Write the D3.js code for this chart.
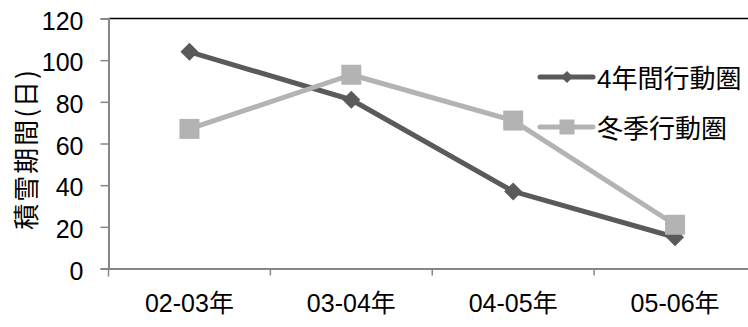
<!DOCTYPE html>
<html>
<head>
<meta charset="utf-8">
<script src="https://cdn.jsdelivr.net/npm/d3@7"></script>
<style>
  html, body { margin: 0; padding: 0; background: #fff; }
  svg { display: block; }
  text { font-family: "Liberation Sans", Arial, "Noto Sans CJK JP", sans-serif; fill: #000; }
</style>
</head>
<body>
<svg id="chart" width="748" height="327"></svg>
<script>
// Snow-cover duration per winter, by home-range definition
const seasons = ["02-03年", "03-04年", "04-05年", "05-06年"];
const fourYearRange = [104, 81, 37, 15];   // 4年間行動圏
const winterRange = [67, 93, 71, 21];      // 冬季行動圏
const yTicks = [0, 20, 40, 60, 80, 100, 120];
const seriesNames = ["4年間行動圏", "冬季行動圏"];

const series = [
  { name: seriesNames[0], values: fourYearRange, color: "#5a5a5a", marker: "diamond" },
  { name: seriesNames[1], values: winterRange, color: "#b3b3b3", marker: "square" }
];

const svg = d3.select("#chart");
const plotLeft = 108.5, plotRight = 756, plotTop = 18.5, plotBottom = 268.5;

const x = d3.scaleBand().domain(seasons).range([plotLeft, plotRight]);
const y = d3.scaleLinear().domain([0, 120]).range([plotBottom, plotTop]);

// plot frame: black top edge
svg.append("line")
  .attr("x1", plotLeft).attr("x2", 748).attr("y1", plotTop).attr("y2", plotTop)
  .attr("stroke", "#000").attr("stroke-width", 1.5);

// y axis
const yAxis = svg.append("g")
  .attr("transform", `translate(${plotLeft},0)`)
  .call(d3.axisLeft(y).tickValues(yTicks).tickSize(8).tickPadding(17).tickFormat(d3.format("d")));
yAxis.select(".domain").attr("stroke", "#868686").attr("stroke-width", 2);
yAxis.selectAll(".tick line").attr("stroke", "#868686").attr("stroke-width", 1.5);
yAxis.selectAll(".tick text")
  .attr("font-size", 25).attr("dy", "0.42em")
  .style("font-family", "'Liberation Sans', Arial, sans-serif");

// x axis
const xAxis = svg.append("g")
  .attr("transform", `translate(0,${plotBottom})`)
  .call(d3.axisBottom(x).tickSize(0).tickPadding(30));
xAxis.select(".domain").attr("stroke", "#868686").attr("stroke-width", 2);
xAxis.selectAll(".tick text")
  .attr("font-size", 25).attr("dy", "0.55em");
// category boundary ticks
const bounds = seasons.map(s => x(s)).concat([x(seasons[seasons.length - 1]) + x.bandwidth()]);
xAxis.selectAll(".bound")
  .data(bounds)
  .join("line")
  .attr("class", "bound")
  .attr("x1", d => d).attr("x2", d => d)
  .attr("y1", 0).attr("y2", (d, i) => i === 0 ? 8 : 7)
  .attr("stroke", "#868686").attr("stroke-width", 1.5);

// y axis title
svg.append("text")
  .attr("transform", "translate(24,149) rotate(-90)")
  .attr("text-anchor", "middle")
  .attr("dominant-baseline", "central")
  .attr("font-size", 26)
  .attr("letter-spacing", 2)
  .style("font-family", "'Noto Sans CJK JP', sans-serif")
  .text("積雪期間(日)");

const cx = s => x(s) + x.bandwidth() / 2;
const line = d3.line().x((d, i) => cx(seasons[i])).y(d => y(d));

function drawMarker(g, type, px, py, size, color) {
  const h = size / 2;
  if (type === "diamond") {
    g.append("path")
      .attr("d", `M${px},${py - h}L${px + h},${py}L${px},${py + h}L${px - h},${py}Z`)
      .attr("fill", color);
  } else {
    g.append("rect")
      .attr("x", px - h).attr("y", py - h)
      .attr("width", size).attr("height", size)
      .attr("fill", color);
  }
}

// series lines, then markers (winter range on top)
series.forEach(s => {
  svg.append("path")
    .datum(s.values)
    .attr("d", line)
    .attr("fill", "none")
    .attr("stroke", s.color)
    .attr("stroke-width", 5)
    .attr("stroke-linejoin", "round");
});
series.forEach(s => {
  const g = svg.append("g");
  s.values.forEach((v, i) => {
    drawMarker(g, s.marker, cx(seasons[i]), y(v), s.marker === "diamond" ? 18 : 20, s.color);
  });
});

// legend
const legendY = [77, 127];
series.forEach((s, i) => {
  const g = svg.append("g");
  g.append("line")
    .attr("x1", 540).attr("x2", 593).attr("y1", legendY[i]).attr("y2", legendY[i])
    .attr("stroke", s.color).attr("stroke-width", 5).attr("stroke-linecap", "round");
  drawMarker(g, s.marker, 567, legendY[i], s.marker === "diamond" ? 12 : 15, s.color);
  g.append("text")
    .attr("x", 597).attr("y", legendY[i] + 2)
    .attr("dominant-baseline", "central")
    .attr("font-size", 26)
    .text(s.name);
});
</script>
</body>
</html>
